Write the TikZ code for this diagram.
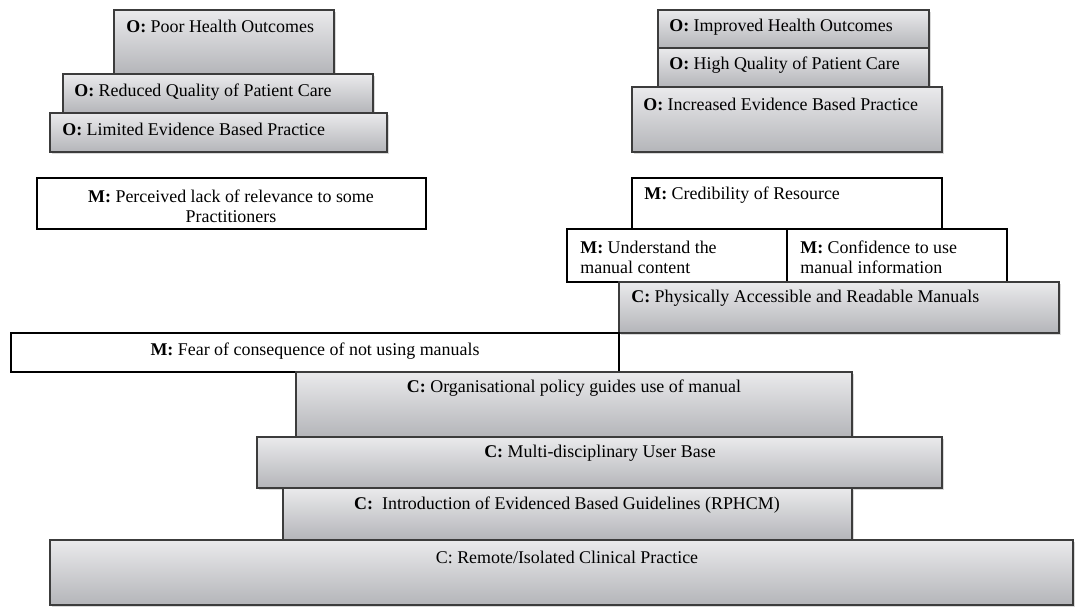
\documentclass[tikz,border=0pt]{standalone}
\usepackage{fontspec}
\setmainfont{Liberation Serif}
\usetikzlibrary{shadows}
\definecolor{boxtop}{RGB}{234,234,236}
\definecolor{boxbot}{RGB}{180,181,185}
\definecolor{boxline}{RGB}{60,60,60}
\tikzset{
  cbox/.style={draw=boxline, line width=0.6pt, top color=boxtop, bottom color=boxbot,
    drop shadow={shadow xshift=1.2pt, shadow yshift=-1.2pt, opacity=0.3}},
  mbox/.style={draw=black, line width=1.5pt, fill=white},
  lbl/.style={inner sep=0pt, font=\fontsize{10.2}{11.4}\selectfont},
}
\begin{document}
\begin{tikzpicture}[x=0.02cm, y=-0.02cm]
\useasboundingbox (0,0) rectangle (1075,606);

\draw [cbox] (114,10) rectangle (334,74);
\node [lbl, anchor=west] (poor) at (126,26) {\textbf{O:} Poor Health Outcomes};
\draw [cbox] (63,74) rectangle (373,113);
\node [lbl, anchor=west] (reduced) at (74,92) {\textbf{O:} Reduced Quality of Patient Care};
\draw [cbox] (50,113) rectangle (387,152);
\node [lbl, anchor=west] (limited) at (62,129) {\textbf{O:} Limited Evidence Based Practice};
\draw [mbox] (37,178) rectangle (426,229);
\node [lbl, align=center] (relevance) at (231,206) {\textbf{M:} Perceived lack of relevance to some\\Practitioners};

\draw [cbox] (658,10) rectangle (929,48);
\node [lbl, anchor=west] (improved) at (669,27) {\textbf{O:} Improved Health Outcomes};
\draw [cbox] (658,48) rectangle (929,87);
\node [lbl, anchor=west] (quality) at (669,65) {\textbf{O:} High Quality of Patient Care};
\draw [cbox] (632,87) rectangle (942,152);
\node [lbl, anchor=west] (increased) at (643,104) {\textbf{O:} Increased Evidence Based Practice};
\draw [mbox] (632,178) rectangle (942,229);
\node [lbl, anchor=west] (credibility) at (644,195) {\textbf{M:} Credibility of Resource};
\draw [mbox] (567,229) rectangle (787,282);
\node [lbl, anchor=west, align=left] (understand) at (580,257) {\textbf{M:} Understand the\\manual content};
\draw [mbox] (787,229) rectangle (1007,282);
\node [lbl, anchor=west, align=left] (confidence) at (800,257) {\textbf{M:} Confidence to use\\manual information};
\draw [cbox] (619,282) rectangle (1059,333);
\node [lbl, anchor=west] (access) at (631,298) {\textbf{C:} Physically Accessible and Readable Manuals};

\draw [mbox] (11,333) rectangle (619,372);
\node [lbl] (fear) at (315,351) {\textbf{M:} Fear of consequence of not using manuals};
\draw [cbox] (296,372) rectangle (852,437);
\node [lbl] (policy) at (574,388) {\textbf{C:} Organisational policy guides use of manual};
\draw [cbox] (257,437) rectangle (942,488);
\node [lbl] (users) at (600,453) {\textbf{C:} Multi-disciplinary User Base};
\draw [cbox] (283,488) rectangle (852,540);
\node [lbl] (guidelines) at (567,505) {\textbf{C:}~ Introduction of Evidenced Based Guidelines (RPHCM)};
\draw [cbox] (50,540) rectangle (1073,605);
\node [lbl] (remote) at (567,557) {C: Remote/Isolated Clinical Practice};
\end{tikzpicture}
\end{document}
